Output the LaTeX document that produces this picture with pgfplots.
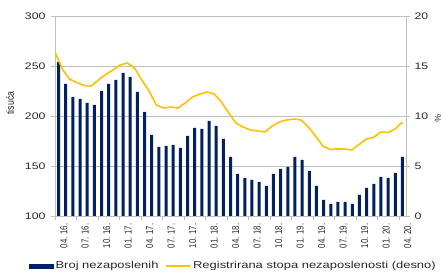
\documentclass[border=0pt]{standalone}
\usepackage{pgfplots}
\pgfplotsset{compat=1.18}
\usepackage{fontspec}
\setmainfont{Liberation Sans}[FakeStretch=1.3]
\newfontfamily\plainfont{Liberation Sans}
\definecolor{barblue}{RGB}{0,32,96}
\definecolor{linegold}{RGB}{255,192,0}
\definecolor{gridgray}{RGB}{191,191,191}
\definecolor{txt}{RGB}{40,40,40}
\begin{document}
\begin{tikzpicture}
\begin{axis}[
  scale only axis, width=351bp, height=200bp,
  xmin=-0.5, xmax=48.5, ymin=100, ymax=300,
  ybar, bar width=3bp,
  ytick={100,150,...,300}, ymajorgrids,
  grid style={gridgray, line width=0.6bp},
  axis line style={gridgray, line width=0.6bp},
  tick pos=left, tick align=outside,
  major tick length=4bp, minor tick length=4bp,
  tick style={gridgray, line width=0.6bp},
  xtick={0,3,...,48},
  xticklabels={04. 16.,07. 16.,10. 16.,01. 17.,04. 17.,07. 17.,10. 17.,01. 18.,04. 18.,07. 18.,10. 18.,01. 19.,04. 19.,07. 19.,10. 19.,01. 20.,04. 20.},
  minor xtick={-0.5,2.5,...,47.5},
  major x tick style={draw=none},
  /pgf/number format/assume math mode=true,
  yticklabel style={font=\fontsize{9.5}{11}\selectfont, text=txt, xshift=-2bp},
  xticklabel style={rotate=90, yscale=1.3, anchor=east, font=\plainfont\fontsize{7.8}{9}\selectfont, text=txt, yshift=-4bp},
  ylabel={tisuća},
  ylabel style={at={(axis description cs:-0.128,0.565)}, anchor=center, yscale=1.2, font=\plainfont\fontsize{8.8}{10}\selectfont, text=txt},
]
\addplot[fill=barblue, draw=none] coordinates {
(0,254) (1,232) (2,219) (3,217) (4,213) (5,211) (6,225) (7,232) (8,236) (9,243)
(10,239) (11,224) (12,204) (13,181) (14,169) (15,170) (16,171) (17,168) (18,180) (19,188)
(20,187) (21,195) (22,190) (23,177) (24,159) (25,142) (26,138) (27,136) (28,134) (29,130)
(30,142) (31,147) (32,149) (33,159) (34,156) (35,145) (36,130) (37,116) (38,112) (39,114)
(40,114) (41,112) (42,121) (43,128) (44,132) (45,139) (46,138) (47,143) (48,159)
};
\end{axis}
\begin{axis}[
  scale only axis, width=351bp, height=200bp,
  xmin=-0.5, xmax=48.5, ymin=0, ymax=20,
  axis y line*=right, axis x line=none,
  ytick={0,5,...,20},
  axis line style={gridgray, line width=0.6bp},
  tick align=outside, major tick length=4bp,
  tick style={gridgray, line width=0.6bp},
  /pgf/number format/assume math mode=true,
  yticklabel style={font=\fontsize{9.5}{11}\selectfont, text=txt, xshift=1bp},
  ylabel={\%},
  ylabel style={at={(axis description cs:1.091,0.49)}, anchor=center, rotate=180, font=\plainfont\fontsize{8.8}{10}\selectfont, text=txt},
  legend style={at={(axis description cs:0.5085,-0.25)}, anchor=center, draw=none, fill=none,
    legend columns=2, font=\fontsize{10}{12}\selectfont, text=txt,
    /tikz/every even column/.append style={column sep=5bp}},
]
\coordinate (sw) at (rel axis cs:0,0);
\addlegendimage{legend image code/.code={\fill[barblue] (0bp,-2.2bp) rectangle (24bp,2.2bp);}}
\addlegendentry{Broj nezaposlenih}
\addplot[linegold, line width=1.6bp, mark=none, legend image code/.code={\draw[linegold, line width=1.6bp] (0bp,0bp)--(24bp,0bp);}] coordinates {
(-0.50,16.4) (0.51,14.7) (1.52,13.7) (2.53,13.35) (3.54,13.05) (4.55,13.0) (5.56,13.6) (6.57,14.15) (7.58,14.6) (8.59,15.1)
(9.60,15.3) (10.61,14.8) (11.62,13.6) (12.64,12.5) (13.65,11.1) (14.66,10.8) (15.67,10.9) (16.68,10.8) (17.69,11.3) (18.70,11.9)
(19.71,12.2) (20.72,12.4) (21.73,12.2) (22.74,11.4) (23.75,10.3) (24.76,9.3) (25.77,8.9) (26.78,8.6) (27.79,8.5) (28.80,8.4)
(29.81,9.0) (30.82,9.4) (31.83,9.6) (32.84,9.7) (33.85,9.6) (34.86,8.9) (35.87,8.0) (36.89,7.0) (37.90,6.65) (38.91,6.7)
(39.92,6.7) (40.93,6.6) (41.94,7.15) (42.95,7.7) (43.96,7.85) (44.97,8.4) (45.98,8.35) (46.99,8.7) (48.00,9.4)
};
\addlegendentry{Registrirana stopa nezaposlenosti (desno)}
\end{axis}
\pgfresetboundingbox
\path[use as bounding box] (sw) ++(-55bp,-62bp) rectangle ++(443bp,278bp);
\end{tikzpicture}
\end{document}
